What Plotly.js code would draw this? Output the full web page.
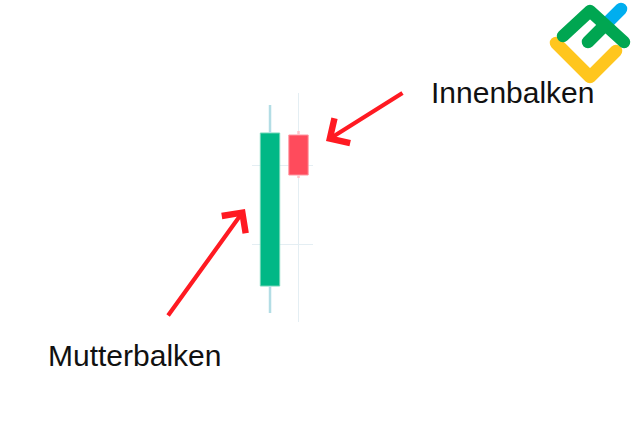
<!DOCTYPE html>
<html>
<head>
<meta charset="utf-8">
<script src="https://cdn.plot.ly/plotly-3.0.1.min.js"></script>
<style>
  html, body { margin: 0; padding: 0; background: #ffffff; }
  #chart { width: 634px; height: 447px; }
</style>
</head>
<body>
<div id="chart"></div>
<script>
// ---- data ----
const candleX = [0, 1];
const openVals = [114, 265];
const closeVals = [267, 225];
const highVals = [295, 269];
const lowVals = [87, 222];
const candleLabels = ['Mutterbalken', 'Innenbalken'];
const gridYVals = [156, 235];
const gridXVals = [1];

// ---- styles ----
const upBody = '#00b886', downBody = '#ff4b5c';
const upEdge = '#6fd6b6', downEdge = '#ff97a2';
const upWick = '#b3dde5', downWick = '#ffc4cb';
const arrowColor = '#ff1a22';

const traces = [];
// wicks (only the parts outside the body)
candleX.forEach((x, i) => {
  const top = Math.max(openVals[i], closeVals[i]);
  const bot = Math.min(openVals[i], closeVals[i]);
  const up = closeVals[i] >= openVals[i];
  traces.push({
    type: 'scatter', mode: 'lines',
    x: [x, x, null, x, x],
    y: [highVals[i], top, null, bot, lowVals[i]],
    line: { color: up ? upWick : downWick, width: 2.5 },
    hoverinfo: 'skip', connectgaps: false
  });
});
// bodies
traces.push({
  type: 'bar',
  x: candleX,
  base: candleX.map((_, i) => Math.min(openVals[i], closeVals[i])),
  y: candleX.map((_, i) => Math.abs(closeVals[i] - openVals[i])),
  width: candleX.map(() => 0.68),
  marker: {
    color: candleX.map((_, i) => closeVals[i] >= openVals[i] ? upBody : downBody),
    line: { color: candleX.map((_, i) => closeVals[i] >= openVals[i] ? upEdge : downEdge), width: 1 }
  },
  text: candleLabels, hoverinfo: 'text', textposition: 'none'
});

// logo as svg
const logoSvg =
  '<svg xmlns="http://www.w3.org/2000/svg" width="94" height="90" viewBox="540 0 94 90">' +
  '<g fill="none" stroke-linecap="round" stroke-linejoin="round" stroke-width="12.5">' +
  '<polyline points="556,43 590,77 616,51" stroke="#ffc61e"/>' +
  '<polyline points="604,26 621,9" stroke="#00aeef"/>' +
  '<polyline points="563,36 590,11 624,42" stroke="#00a651"/>' +
  '<polyline points="588,42 604,26" stroke="#00a651"/>' +
  '</g></svg>';

// plot area pixels: x 252..313, y 93..322
const PL = 252, PR = 313, PT = 93, PB = 322;
const px = v => (v - PL) / (PR - PL);
const py = v => (PB - v) / (PB - PT);

const font = { family: 'Liberation Sans, Arial, sans-serif', color: '#111111', size: 30 };

const layout = {
  width: 634, height: 447,
  margin: { l: PL, r: 634 - PR, t: PT, b: 447 - PB, pad: 0 },
  paper_bgcolor: '#ffffff', plot_bgcolor: '#ffffff',
  showlegend: false,
  barmode: 'overlay',
  xaxis: {
    range: [-0.632, 1.509], showline: false, zeroline: false,
    showticklabels: false, ticks: '', tickmode: 'array', tickvals: gridXVals,
    showgrid: true, gridcolor: '#e4eef3', gridwidth: 1, fixedrange: true
  },
  yaxis: {
    range: [78, 307], showline: false, zeroline: false,
    showticklabels: false, ticks: '', tickmode: 'array', tickvals: gridYVals,
    showgrid: true, gridcolor: '#e4eef3', gridwidth: 1, fixedrange: true
  },
  annotations: [
    { xref: 'paper', yref: 'paper', x: px(429), y: py(92), xanchor: 'left', yanchor: 'middle',
      text: candleLabels[1], showarrow: false, font: font },
    { xref: 'paper', yref: 'paper', x: px(46), y: py(355.5), xanchor: 'left', yanchor: 'middle',
      text: candleLabels[0], showarrow: false, font: font },
    { xref: 'paper', yref: 'paper', x: px(326), y: py(141), ax: 78, ay: -49,
      text: '', showarrow: true, arrowhead: 4, arrowsize: 1.35, arrowwidth: 4.2,
      arrowcolor: arrowColor, standoff: 0 },
    { xref: 'paper', yref: 'paper', x: px(245), y: py(209), ax: -78, ay: 108,
      text: '', showarrow: true, arrowhead: 4, arrowsize: 1.35, arrowwidth: 4.2,
      arrowcolor: arrowColor, standoff: 0 }
  ],
  images: [{
    source: 'data:image/svg+xml;charset=utf-8,' + encodeURIComponent(logoSvg),
    xref: 'paper', yref: 'paper',
    x: px(540), y: py(0), sizex: 94 / (PR - PL), sizey: 90 / (PB - PT),
    xanchor: 'left', yanchor: 'top', sizing: 'stretch', layer: 'above'
  }]
};

Plotly.newPlot('chart', traces, layout, { displayModeBar: false, staticPlot: true });
</script>
</body>
</html>
